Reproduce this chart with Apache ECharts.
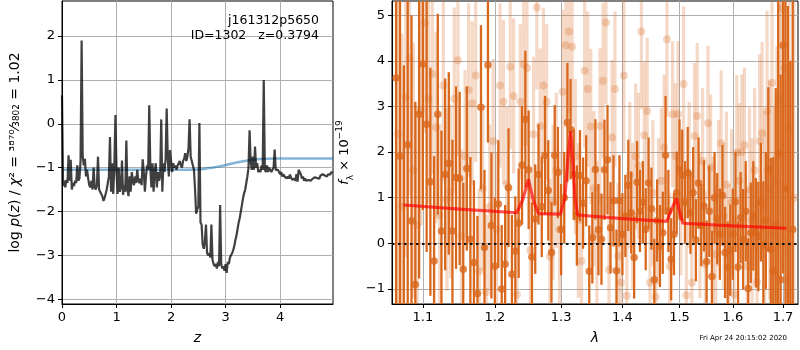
<!DOCTYPE html>
<html><head><meta charset="utf-8">
<script src="https://cdn.jsdelivr.net/npm/echarts@6/dist/echarts.min.js"></script>
<style>html,body{margin:0;padding:0;background:#fff}#c{width:800px;height:350px}</style>
</head><body><div id="c"></div>
<script>
// ---------- Left panel: redshift probability ----------
const zGrid = [
0.00,0.02,0.04,0.06,0.08,0.10,0.12,0.14,0.16,0.18,
0.20,0.22,0.24,0.26,0.28,0.30,0.32,0.34,0.36,0.38,
0.40,0.42,0.44,0.46,0.48,0.50,0.52,0.54,0.56,0.58,
0.60,0.62,0.64,0.66,0.68,0.70,0.72,0.74,0.76,0.78,
0.80,0.82,0.84,0.86,0.88,0.90,0.92,0.94,0.96,0.98,
1.00,1.02,1.04,1.06,1.08,1.10,1.12,1.14,1.16,1.18,
1.20,1.22,1.24,1.26,1.28,1.30,1.32,1.34,1.36,1.38,
1.40,1.42,1.44,1.46,1.48,1.50,1.52,1.54,1.56,1.58,
1.60,1.62,1.64,1.66,1.68,1.70,1.72,1.74,1.76,1.78,
1.80,1.82,1.84,1.86,1.88,1.90,1.92,1.94,1.96,1.98,
2.00,2.02,2.04,2.06,2.08,2.10,2.12,2.14,2.16,2.18,
2.20,2.22,2.24,2.26,2.28,2.30,2.32,2.34,2.36,2.38,
2.40,2.42,2.44,2.46,2.48,2.50,2.52,2.54,2.56,2.58,
2.60,2.62,2.64,2.66,2.68,2.70,2.72,2.74,2.76,2.78,
2.80,2.82,2.84,2.86,2.88,2.90,2.92,2.94,2.96,2.98,
3.00,3.02,3.04,3.06,3.08,3.10,3.12,3.14,3.16,3.18,
3.20,3.22,3.24,3.26,3.28,3.30,3.32,3.34,3.36,3.38,
3.40,3.42,3.44,3.46,3.48,3.50,3.52,3.54,3.56,3.58,
3.60,3.62,3.64,3.66,3.68,3.70,3.72,3.74,3.76,3.78,
3.80,3.82,3.84,3.86,3.88,3.90,3.92,3.94,3.96,3.98,
4.00,4.02,4.04,4.06,4.08,4.10,4.12,4.14,4.16,4.18,
4.20,4.22,4.24,4.26,4.28,4.30,4.32,4.34,4.36,4.38,
4.40,4.42,4.44,4.46,4.48,4.50,4.52,4.54,4.56,4.58,
4.60,4.62,4.64,4.66,4.68,4.70,4.72,4.74,4.76,4.78,
4.80,4.82,4.84,4.86,4.88,4.90,4.92,4.94,4.96];
const logPz = [
0.65,-1.42,-1.30,-1.45,-1.28,-1.35,-0.72,-1.30,-0.82,-1.50,
-1.35,-1.42,-1.30,-1.35,-0.95,-1.30,-1.25,-0.85,1.90,-0.75,
-0.95,-0.80,-1.20,-1.05,-1.25,-1.40,-1.45,-1.30,-1.50,-1.00,
-1.45,-1.50,-1.40,-0.75,-1.50,-1.55,-1.60,-1.65,-1.76,-1.70,
-1.60,-1.50,-1.35,-1.20,-0.30,-1.55,-0.90,-1.60,-0.95,0.20,
-1.10,-1.60,-1.00,-1.55,-1.45,-0.84,-1.62,-1.40,-1.55,-0.38,
-1.50,-1.65,-1.20,-1.55,-1.10,-1.30,-1.40,-1.20,-1.35,-1.05,
-1.30,-1.35,-1.25,-1.40,-0.81,-1.10,-1.55,-1.20,-0.95,-1.05,
0.42,-1.00,-1.45,-0.90,-1.55,-1.10,-0.90,-1.45,-1.10,-1.30,
-1.20,0.10,-1.55,-0.90,-1.10,-0.80,0.35,-0.80,-1.20,-0.60,
-0.59,-1.10,-0.90,-1.00,-0.95,-1.05,-0.95,-0.90,-0.85,-0.95,
-1.00,-0.85,-0.80,-0.67,-0.85,-0.75,-0.55,0.10,-0.75,-0.85,
-0.85,-1.05,-1.50,-2.05,-1.95,-1.90,0.02,-2.25,-2.30,-2.75,
-2.85,-2.70,-2.30,-2.95,-3.00,-2.95,-3.05,-2.30,-3.10,-3.20,
-3.25,-3.20,-3.30,-3.15,-3.25,-1.85,-3.20,-3.30,-3.25,-3.35,
-3.20,-3.40,-3.15,-3.20,-3.05,-3.00,-2.95,-2.88,-2.78,-2.65,
-2.55,-2.40,-2.25,-2.15,-2.00,-1.85,-1.70,-1.58,-1.50,-1.35,
-1.20,-1.01,-0.15,-0.85,-1.05,-0.75,-1.05,-0.52,-1.00,-0.90,
-1.10,-1.05,-1.10,-0.95,-1.05,1.00,-1.05,-1.10,-0.95,-1.10,
-1.00,-1.05,-1.10,-1.05,-1.00,-0.59,-1.05,-1.05,-1.05,-1.10,
-1.15,-1.10,-1.20,-1.15,-1.20,-1.18,-1.25,-1.20,-1.25,-1.16,
-1.22,-1.28,-1.32,-1.25,-1.30,-1.15,-1.32,-1.05,-1.01,-1.15,
-1.25,-1.20,-1.30,-1.25,-1.30,-1.32,-1.28,-1.25,-1.30,-1.28,
-1.25,-1.28,-1.22,-1.26,-1.24,-1.22,-1.25,-1.18,-1.22,-1.15,
-1.13,-1.18,-1.15,-1.20,-1.15,-1.12,-1.16,-1.10,-1.12];
const priorZ = [0, 1.0, 2.0, 2.5, 2.7, 2.9, 3.1, 3.3, 3.5, 3.7, 3.9, 4.5, 4.97];
const priorLogP = [-1.05, -1.05, -1.05, -1.04, -1.01, -0.97, -0.91, -0.86, -0.82, -0.80, -0.79, -0.79, -0.79];
const zTicks = [0, 1, 2, 3, 4];
const pzTicks = [-4, -3, -2, -1, 0, 1, 2];

// ---------- Right panel: spectrum ----------
const darkWave = [
1.065,1.070,1.075,1.080,1.085,1.090,1.095,1.100,1.105,1.110,
1.115,1.120,1.125,1.130,1.135,1.140,1.145,1.150,1.155,1.160,
1.165,1.170,1.175,1.180,1.185,1.190,1.195,1.200,1.205,1.210,
1.215,1.220,1.225,1.230,1.235,1.240,1.245,1.250,1.255,1.260,
1.265,1.270,1.275,1.280,1.285,1.290,1.295,1.300,1.305,1.310,
1.315,1.320,1.325,1.330,1.335,1.340,1.345,1.350,1.355,1.360,
1.365,1.370,1.375,1.380,1.385,1.390,1.395,1.400,1.405,1.410,
1.415,1.420,1.425,1.430,1.435,1.440,1.445,1.450,1.455,1.460,
1.465,1.470,1.475,1.480,1.485,1.490,1.495,1.500,1.505,1.510,
1.515,1.520,1.525,1.530,1.535,1.540,1.545,1.550,1.555,1.560,
1.565,1.570,1.575,1.580,1.585,1.590,1.595,1.600,1.605,1.610,
1.615,1.620,1.625,1.630,1.635,1.640,1.645,1.650,1.655,1.660,
1.665,1.670,1.675,1.680,1.685,1.690,1.695,1.700,1.705,1.710,
1.715,1.720];
const darkFlux = [
3.62,1.91,-1.60,2.16,0.49,-0.90,2.83,3.93,2.61,1.35,
-0.39,2.83,0.27,1.51,1.75,0.27,1.44,1.42,-0.57,1.64,
0.09,-0.42,-1.10,2.98,-0.09,3.91,0.39,-0.50,0.86,-1.00,
-0.46,1.22,-0.68,-0.17,0.44,1.71,2.72,1.61,-0.30,0.53,
1.51,0.80,1.93,1.16,-0.20,1.93,1.55,0.30,1.00,2.65,
2.50,1.51,0.61,1.48,0.88,1.37,-0.61,0.12,1.62,0.30,
0.09,1.61,1.83,0.34,0.93,-0.60,0.93,0.20,0.60,1.27,
0.67,-0.31,1.34,0.71,0.90,0.31,1.32,0.76,-0.80,0.50,
-0.06,0.23,1.93,0.71,-0.35,0.20,1.11,1.62,1.49,0.90,
1.55,0.67,1.11,0.07,1.32,0.40,0.82,-0.40,0.70,-0.73,
1.00,0.54,0.20,1.05,-0.20,-0.52,-0.15,0.20,0.91,-0.52,
0.56,0.09,0.70,-0.99,0.23,0.60,0.23,0.15,0.90,-0.04,
0.50,1.62,-0.13,-0.61,0.40,1.97,-0.80,4.34,1.20,-1.80,
-2.00,0.30];
const darkErr = [
6.0,6.0,5.5,5.0,4.5,4.0,3.6,3.2,2.8,2.5,
2.3,2.2,2.2,2.1,2.0,2.0,2.0,1.9,1.9,1.8,
1.8,1.8,1.7,1.8,1.7,1.7,1.6,1.5,1.4,1.4,
1.3,1.3,1.3,1.2,1.2,1.3,1.5,1.3,1.2,1.2,
1.1,1.1,1.3,1.1,1.1,1.1,1.0,1.0,1.0,1.3,
1.1,1.0,1.1,1.0,1.0,1.0,1.0,1.0,1.1,1.0,
1.0,1.1,1.2,1.0,1.0,0.9,1.0,0.9,0.9,1.0,
0.9,0.9,0.9,0.9,0.9,0.9,1.0,0.9,0.9,0.9,
0.9,0.9,1.3,0.9,0.9,0.9,0.9,1.1,1.0,0.9,
1.0,0.9,1.0,0.9,1.0,0.9,1.0,0.9,1.0,1.0,
1.0,1.0,1.0,1.1,1.0,1.0,1.0,1.0,1.1,1.0,
1.0,1.1,1.1,1.1,1.1,1.2,1.2,1.2,1.3,1.4,
1.5,1.8,2.0,2.5,3.0,3.5,4.5,5.0,6.0,7.0,
6.0,8.0];
const lightWave = [
1.0675,1.0725,1.0775,1.0825,1.0875,1.0925,1.0975,1.1025,1.1075,1.1125,
1.1175,1.1225,1.1275,1.1325,1.1375,1.1425,1.1475,1.1525,1.1575,1.1625,
1.1675,1.1725,1.1775,1.1825,1.1875,1.1925,1.1975,1.2025,1.2075,1.2125,
1.2175,1.2225,1.2275,1.2325,1.2375,1.2425,1.2475,1.2525,1.2575,1.2625,
1.2675,1.2725,1.2775,1.2825,1.2875,1.2925,1.2975,1.3025,1.3075,1.3125,
1.3175,1.3225,1.3275,1.3325,1.3375,1.3425,1.3475,1.3525,1.3575,1.3625,
1.3675,1.3725,1.3775,1.3825,1.3875,1.3925,1.3975,1.4025,1.4075,1.4125,
1.4175,1.4225,1.4275,1.4325,1.4375,1.4425,1.4475,1.4525,1.4575,1.4625,
1.4675,1.4725,1.4775,1.4825,1.4875,1.4925,1.4975,1.5025,1.5075,1.5125,
1.5175,1.5225,1.5275,1.5325,1.5375,1.5425,1.5475,1.5525,1.5575,1.5625,
1.5675,1.5725,1.5775,1.5825,1.5875,1.5925,1.5975,1.6025,1.6075,1.6125,
1.6175,1.6225,1.6275,1.6325,1.6375,1.6425,1.6475,1.6525,1.6575,1.6625,
1.6675,1.6725,1.6775,1.6825,1.6875,1.6925,1.6975,1.7025,1.7075,1.7125,
1.7175,1.7225];
const lightFlux = [
2.40,0.80,3.20,4.05,1.60,0.40,2.90,4.82,3.16,3.71,
2.54,0.61,3.46,0.96,1.13,3.17,4.01,0.16,1.90,3.36,
3.07,3.68,-0.61,1.20,-1.07,0.80,2.24,0.31,3.46,3.10,
1.29,3.87,3.23,-1.12,3.10,3.93,3.84,-0.15,2.39,5.17,
2.57,3.46,3.10,-0.29,0.90,1.60,0.30,3.32,4.34,4.64,
4.31,1.90,0.50,-0.39,3.78,3.38,2.56,1.20,0.20,2.57,
3.56,4.84,-0.58,2.32,3.38,-0.28,-0.86,3.68,-1.15,1.50,
0.60,1.90,1.70,4.64,2.37,2.90,-0.86,1.10,-1.17,0.70,
1.37,2.10,4.47,-0.50,2.83,1.91,2.83,0.90,3.49,-1.14,
1.50,-0.86,2.35,2.79,0.40,1.80,-0.46,2.63,1.66,0.30,
-0.24,1.10,2.19,0.60,1.29,-0.30,0.90,-1.12,1.99,1.37,
2.00,2.15,-0.50,1.18,0.50,1.60,-0.85,2.24,2.41,0.80,
2.90,1.17,3.52,0.20,1.32,3.17,5.15,3.84,-0.80,2.50,
-1.50,1.00];
const lightErr = [
4.0,3.8,3.5,3.0,2.8,2.6,2.5,2.4,2.3,2.2,
2.1,2.0,2.1,2.0,1.9,2.0,2.1,1.9,1.9,1.9,
1.8,1.9,1.8,1.8,1.7,1.8,1.8,1.7,1.8,1.8,
1.7,1.8,1.7,1.7,1.7,1.8,1.7,1.7,1.7,1.8,
1.7,1.7,1.7,1.7,1.7,1.7,1.7,1.8,1.8,1.8,
1.7,1.7,1.7,1.7,1.7,1.7,1.7,1.7,1.6,1.7,
1.7,1.8,1.6,1.7,1.7,1.6,1.6,1.7,1.6,1.6,
1.6,1.6,1.6,1.7,1.6,1.6,1.6,1.6,1.6,1.6,
1.6,1.6,1.7,1.6,1.6,1.6,1.6,1.6,1.7,1.6,
1.6,1.6,1.6,1.6,1.6,1.6,1.6,1.7,1.6,1.6,
1.6,1.6,1.6,1.6,1.6,1.6,1.6,1.7,1.7,1.7,
1.7,1.7,1.7,1.8,1.8,1.8,1.9,1.9,2.0,2.1,
2.2,2.4,2.6,2.8,3.0,3.3,3.6,4.0,4.5,5.0,
5.5,6.0];
const modelWave = [1.0746,1.15,1.232,1.241,1.2496,1.257,1.265,1.299,1.306,1.311,1.315,1.319,1.322,1.326,1.40,1.477,1.486,1.495,1.50,1.506,1.60,1.707];
const modelFlux = [0.84,0.75,0.67,0.95,1.40,0.95,0.65,0.64,1.00,1.90,2.46,1.70,1.00,0.62,0.54,0.48,0.75,0.99,0.70,0.44,0.38,0.33];
const waveTicks = [1.1, 1.2, 1.3, 1.4, 1.5, 1.6, 1.7];
const fluxTicks = [-1, 0, 1, 2, 3, 4, 5];

// ---------- build ----------
const FONT = 'DejaVu Sans';
const DARK = '#d9681d';
const minusFmt = v => { const r = Math.round(v); return r < 0 ? '\u2212' + Math.abs(r) : String(r); };
const ln = Math.log;

function errRender(w, color) {
  return function (params, api) {
    const x = api.value(0), y = api.value(1), e = api.value(2);
    const top = api.coord([x, y + e]), bot = api.coord([x, y - e]);
    const cs = params.coordSys;
    const y0 = Math.max(top[1], cs.y), y1 = Math.min(bot[1], cs.y + cs.height);
    if (y1 <= y0) return null;
    return { type: 'rect', shape: { x: top[0] - w / 2, y: y0, width: w, height: y1 - y0 }, style: { fill: color } };
  };
}

const darkBars = darkWave.map((w, i) => [ln(w), darkFlux[i], darkErr[i]]);
const lightBars = lightWave.map((w, i) => [ln(w), lightFlux[i], lightErr[i]]);
const darkPts = darkWave.map((w, i) => [ln(w), darkFlux[i]]);
const lightPts = lightWave.map((w, i) => [ln(w), lightFlux[i]]);
const modelPts = modelWave.map((w, i) => [ln(w), modelFlux[i]]);

const axisCommon = {
  axisLine: { show: true, onZero: false, lineStyle: { color: '#000', width: 1 } },
  axisTick: { show: true, length: 4, lineStyle: { color: '#000', width: 1 } },
  splitLine: { show: true, lineStyle: { color: '#b0b0b0', width: 1 } },
  axisLabel: { color: '#000', fontSize: 13, fontFamily: FONT, margin: 7 }
};
function ax(extra) {
  const o = JSON.parse(JSON.stringify(axisCommon));
  for (const k in extra) {
    if (typeof extra[k] === 'object' && !Array.isArray(extra[k]) && o[k]) Object.assign(o[k], extra[k]);
    else o[k] = extra[k];
  }
  return o;
}

const chart = echarts.init(document.getElementById('c'), null, { renderer: 'canvas' });
const xAx0 = ax({ gridIndex: 0, type: 'value', min: 0, max: 4.97,
  axisTick: { customValues: zTicks }, axisLabel: { customValues: zTicks, formatter: minusFmt },
  name: 'z', nameLocation: 'middle', nameGap: 27,
  nameTextStyle: { fontSize: 14, fontStyle: 'italic', fontFamily: FONT, color: '#000' } });
const yAx0 = ax({ gridIndex: 0, type: 'value', min: -4.11, max: 2.8,
  axisTick: { customValues: pzTicks }, axisLabel: { customValues: pzTicks, formatter: minusFmt },
  name: '{n|log }{i|p}{n|(}{i|z}{n|) / }{i|\u03c7}{n|\u00b2 = \u00b3\u2078\u2077\u2070\u2044\u2083\u2088\u2080\u2082 = 1.02}',
  nameLocation: 'middle', nameGap: 40,
  nameTextStyle: { color: '#000', rich: {
    n: { fontSize: 14, fontFamily: FONT, color: '#000' },
    i: { fontSize: 14, fontFamily: FONT, fontStyle: 'italic', color: '#000' } } } });
const xAx1 = ax({ gridIndex: 1, type: 'value', min: ln(1.0597), max: ln(1.731),
  axisTick: { customValues: waveTicks.map(ln) },
  axisLabel: { customValues: waveTicks.map(ln), formatter: v => Math.exp(v).toFixed(1) },
  name: '\u03bb', nameLocation: 'middle', nameGap: 27,
  nameTextStyle: { fontSize: 14, fontStyle: 'italic', fontFamily: FONT, color: '#000' } });
const yAx1 = ax({ gridIndex: 1, type: 'value', min: -1.33, max: 5.31,
  axisTick: { customValues: fluxTicks }, axisLabel: { customValues: fluxTicks, formatter: minusFmt },
  name: '{i|f}{s|\u03bb}{n| \u00d7 10}{p|\u221219}', nameLocation: 'middle', nameGap: 36,
  nameTextStyle: { color: '#000', rich: {
    n: { fontSize: 13, fontFamily: FONT, color: '#000', lineHeight: 20 },
    i: { fontSize: 13, fontFamily: FONT, fontStyle: 'italic', color: '#000', lineHeight: 20 },
    s: { fontSize: 9, fontFamily: FONT, color: '#000', verticalAlign: 'bottom', lineHeight: 20 },
    p: { fontSize: 9, fontFamily: FONT, color: '#000', verticalAlign: 'top', lineHeight: 20 } } } });

chart.setOption({
  animation: false,
  backgroundColor: '#fff',
  textStyle: { fontFamily: FONT },
  grid: [
    { left: 62, top: 1, width: 271, height: 303, show: true, borderColor: '#000', borderWidth: 1 },
    { left: 392, top: 1, width: 406, height: 303, show: true, borderColor: '#000', borderWidth: 1 }
  ],
  xAxis: [xAx0, xAx1],
  yAxis: [yAx0, yAx1],
  graphic: [
    { type: 'text', right: 481, top: 14, z: 10, style: { text: 'j161312p5650', font: '12.5px "DejaVu Sans"', fill: '#000', textAlign: 'right' } },
    { type: 'text', right: 481, top: 29, z: 10, style: { text: 'ID=1302   z=0.3794', font: '12.5px "DejaVu Sans"', fill: '#000', textAlign: 'right' } },
    { type: 'text', right: 13, top: 335, style: { text: 'Fri Apr 24 20:15:02 2020', font: '7px "DejaVu Sans"', fill: '#000' } }
  ],
  series: [
    { type: 'line', xAxisIndex: 0, yAxisIndex: 0, data: priorZ.map((z, i) => [z, priorLogP[i]]),
      smooth: true, showSymbol: false, lineStyle: { color: 'rgba(31,119,180,0.55)', width: 2.5 }, z: 2 },
    { type: 'line', xAxisIndex: 0, yAxisIndex: 0, data: zGrid.map((z, i) => [z, logPz[i]]),
      showSymbol: false, lineStyle: { color: 'rgba(0,0,0,0.75)', width: 2.2 }, z: 3 },
    { type: 'custom', xAxisIndex: 1, yAxisIndex: 1, renderItem: errRender(3.2, 'rgba(217,104,29,0.25)'),
      data: lightBars, encode: { x: 0, y: 1 }, z: 2 },
    { type: 'scatter', xAxisIndex: 1, yAxisIndex: 1, data: lightPts, symbolSize: 8,
      itemStyle: { color: 'rgba(217,104,29,0.33)' }, z: 2 },
    { type: 'custom', xAxisIndex: 1, yAxisIndex: 1, renderItem: errRender(2.3, DARK),
      data: darkBars, encode: { x: 0, y: 1 }, z: 3 },
    { type: 'scatter', xAxisIndex: 1, yAxisIndex: 1, data: darkPts, symbolSize: 7.5,
      itemStyle: { color: DARK }, z: 3 },
    { type: 'line', xAxisIndex: 1, yAxisIndex: 1, data: modelPts, showSymbol: false,
      lineStyle: { color: 'rgba(255,0,0,0.68)', width: 3.2 }, z: 4,
      markLine: { silent: true, symbol: ['none', 'none'], label: { show: false },
        lineStyle: { color: '#111', type: [2.5, 3.5], width: 2.2 }, data: [{ yAxis: 0 }] } }
  ]
});
</script></body></html>
